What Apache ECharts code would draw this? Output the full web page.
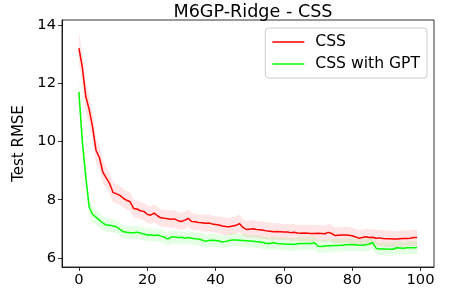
<!DOCTYPE html>
<html><head><meta charset="utf-8">
<script src="https://cdn.jsdelivr.net/npm/echarts@6/dist/echarts.min.js"></script>
<style>html,body{margin:0;padding:0;background:#fff}#c{width:454px;height:290px}</style>
</head><body><div id="c"></div>
<script>
const steps = Array.from({length:100},(_,i)=>i);
const cssMean = [13.2,12.55,11.55,11.1,10.5,9.7,9.45,8.95,8.75,8.55,
8.25,8.2,8.15,8.05,7.98,7.93,7.7,7.68,7.62,7.6,
7.5,7.47,7.54,7.45,7.38,7.36,7.35,7.33,7.34,7.28,
7.25,7.3,7.36,7.25,7.24,7.22,7.21,7.19,7.2,7.17,
7.15,7.13,7.1,7.08,7.07,7.1,7.12,7.18,7.05,6.98,
6.99,7.0,6.98,6.97,6.95,6.93,6.92,6.9,6.91,6.9,
6.89,6.89,6.87,6.88,6.86,6.85,6.86,6.85,6.84,6.84,
6.85,6.84,6.83,6.88,6.84,6.77,6.78,6.79,6.79,6.78,
6.76,6.72,6.68,6.7,6.73,6.7,6.71,6.68,6.69,6.67,
6.66,6.66,6.65,6.65,6.66,6.67,6.67,6.68,6.7,6.7];
const cssStd = [0.55,0.52,0.5,0.48,0.45,0.42,0.4,0.38,0.36,0.35,
0.34,0.33,0.33,0.32,0.32,0.31,0.3,0.3,0.3,0.3,
0.3,0.3,0.31,0.3,0.3,0.29,0.29,0.3,0.3,0.29,
0.29,0.3,0.3,0.29,0.29,0.28,0.28,0.29,0.29,0.28,
0.28,0.29,0.3,0.3,0.29,0.3,0.3,0.3,0.29,0.29,
0.3,0.3,0.29,0.29,0.3,0.3,0.29,0.29,0.28,0.28,
0.28,0.28,0.29,0.29,0.28,0.28,0.28,0.29,0.29,0.28,
0.28,0.28,0.28,0.29,0.29,0.28,0.28,0.28,0.28,0.28,
0.28,0.28,0.28,0.28,0.28,0.28,0.28,0.28,0.28,0.28,
0.28,0.28,0.28,0.28,0.28,0.28,0.28,0.28,0.28,0.28];
const gptMean = [11.7,10.0,8.8,7.75,7.5,7.4,7.3,7.2,7.13,7.12,
7.1,7.07,6.98,6.9,6.88,6.87,6.87,6.88,6.86,6.82,
6.79,6.8,6.77,6.79,6.75,6.72,6.65,6.72,6.72,6.7,
6.71,6.68,6.7,6.68,6.66,6.65,6.62,6.57,6.6,6.61,
6.6,6.58,6.55,6.57,6.6,6.62,6.62,6.61,6.6,6.59,
6.58,6.57,6.56,6.55,6.53,6.5,6.5,6.52,6.5,6.49,
6.48,6.47,6.47,6.46,6.49,6.5,6.5,6.5,6.5,6.52,
6.4,6.39,6.41,6.42,6.42,6.43,6.43,6.44,6.45,6.45,
6.46,6.45,6.44,6.44,6.45,6.48,6.53,6.33,6.31,6.31,
6.31,6.3,6.3,6.35,6.34,6.33,6.35,6.35,6.35,6.36];
const gptStd = [0.45,0.4,0.35,0.3,0.28,0.26,0.25,0.24,0.23,0.23,
0.23,0.22,0.22,0.22,0.22,0.22,0.22,0.22,0.22,0.22,
0.22,0.22,0.22,0.22,0.22,0.22,0.22,0.22,0.22,0.22,
0.22,0.22,0.22,0.22,0.22,0.22,0.22,0.22,0.22,0.22,
0.22,0.22,0.22,0.22,0.22,0.22,0.22,0.22,0.22,0.22,
0.22,0.22,0.22,0.22,0.22,0.22,0.22,0.22,0.22,0.22,
0.22,0.22,0.22,0.22,0.22,0.22,0.22,0.22,0.22,0.22,
0.22,0.22,0.22,0.22,0.22,0.22,0.22,0.22,0.22,0.22,
0.22,0.22,0.22,0.22,0.22,0.22,0.22,0.22,0.22,0.22,
0.22,0.22,0.22,0.22,0.22,0.22,0.22,0.22,0.22,0.22];
const xTicks = [0,20,40,60,80,100];
const yTicks = [6,8,10,12,14];

const pts = (arr)=>steps.map((x,i)=>[x,arr[i]]);
const bandData = (m,s)=>steps.map((x,i)=>[x,m[i]-s[i],m[i]+s[i]]);
function bandRender(data, fill){
  return function(params, api){
    if (params.dataIndex !== 0) return null;
    const up = data.map(d=>api.coord([d[0],d[2]]));
    const lo = data.map(d=>api.coord([d[0],d[1]])).reverse();
    return {type:'polygon',shape:{points:up.concat(lo)},style:{fill:fill,stroke:null},silent:true};
  };
}
const cssBand = bandData(cssMean,cssStd);
const gptBand = bandData(gptMean,gptStd);
const font = 'DejaVu Sans';
const chart = echarts.init(document.getElementById('c'));
chart.setOption({
  animation:false,
  title:{text:'M6GP-Ridge - CSS',left:248,textAlign:'center',top:-2,textStyle:{fontFamily:font,fontSize:17.6,fontWeight:'normal',color:'#000'}},
  grid:{left:62,right:20,top:20,bottom:23,show:true,borderColor:'#000',borderWidth:0.8,backgroundColor:'transparent'},
  legend:{right:27,top:28,orient:'vertical',itemWidth:32,itemHeight:1.5,itemGap:6,
    padding:[6,7,6,7],borderColor:'#ccc',borderWidth:1,borderRadius:3,backgroundColor:'rgba(255,255,255,0.8)',
    data:['CSS','CSS with GPT'],icon:'rect',
    textStyle:{fontFamily:font,fontSize:15.6,color:'#000',padding:[0,0,0,6]}},
  xAxis:{type:'value',min:-4.95,max:103.95,
    axisLine:{show:true,onZero:false,lineStyle:{color:'#000',width:0.8}},
    axisTick:{show:true,customValues:xTicks,length:4,lineStyle:{color:'#000',width:0.8}},
    axisLabel:{customValues:xTicks,fontFamily:font,fontSize:14.7,color:'#000',margin:6},
    splitLine:{show:false}},
  yAxis:{type:'value',min:5.69,max:14.17,
    name:'Test RMSE',nameLocation:'middle',nameGap:31,nameTextStyle:{fontFamily:font,fontSize:15,color:'#000'},
    axisLine:{show:true,onZero:false,lineStyle:{color:'#000',width:0.8}},
    axisTick:{show:true,customValues:yTicks,length:4,lineStyle:{color:'#000',width:0.8}},
    axisLabel:{customValues:yTicks,fontFamily:font,fontSize:14.7,color:'#000',margin:6},
    splitLine:{show:false}},
  series:[
    {name:'cssBand',type:'custom',data:cssBand,renderItem:bandRender(cssBand,'rgba(255,0,0,0.1)'),silent:true,clip:true,z:1},
    {name:'gptBand',type:'custom',data:gptBand,renderItem:bandRender(gptBand,'rgba(0,255,0,0.1)'),silent:true,clip:true,z:1},
    {name:'CSS',type:'line',data:pts(cssMean),symbol:'none',z:3,itemStyle:{color:'#ff0000'},lineStyle:{color:'#ff0000',width:1.5}},
    {name:'CSS with GPT',type:'line',data:pts(gptMean),symbol:'none',z:3,itemStyle:{color:'#00ff00'},lineStyle:{color:'#00ff00',width:1.5}}
  ]
});
</script></body></html>
